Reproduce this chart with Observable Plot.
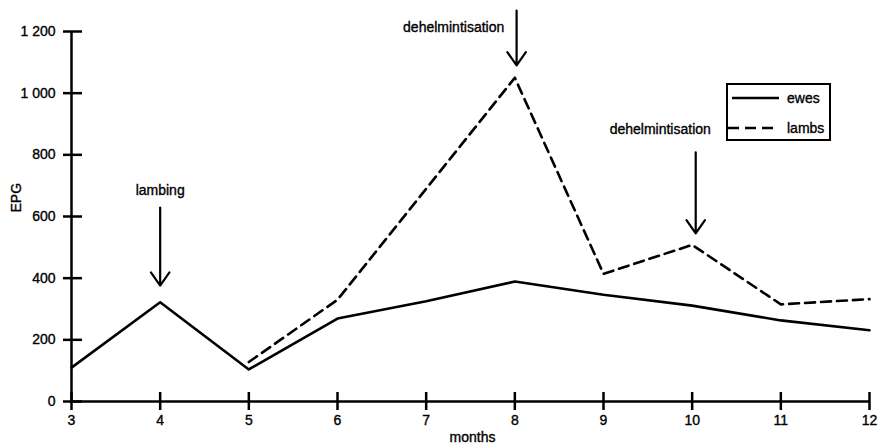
<!DOCTYPE html>
<html><head><meta charset="utf-8">
<script src="https://cdn.jsdelivr.net/npm/d3@7"></script>
<script src="https://cdn.jsdelivr.net/npm/@observablehq/plot@0.6"></script>
<style>
body{margin:0;background:#fff;font-family:"Liberation Sans",Arial,Helvetica,sans-serif;}
#wrap{position:relative;width:878px;height:446px;overflow:hidden;}
#wrap svg text{stroke:#000;stroke-width:0.35px;}
#legend{position:absolute;left:726px;top:83px;width:101px;height:54px;border:2px solid #000;background:#fff;}
#legend svg{display:block}
</style></head><body>
<div id="wrap"></div>
<script>
// ---- data ----
const months = [3, 4, 5, 6, 7, 8, 9, 10, 11, 12];
const ewes = [110, 322, 104, 269, 325, 389, 346, 311, 263, 231];
const lambMonths = [5, 6, 8, 9, 10, 11, 12];
const lambs = [128, 330, 1050, 414, 508, 315, 332];
const yTicks = [0, 200, 400, 600, 800, 1000, 1200];
const xTicks = [3, 4, 5, 6, 7, 8, 9, 10, 11, 12];
const annLabels = ["lambing", "dehelmintisation", "dehelmintisation"];
const annTextX = [4.0, 7.31, 9.64];
const annTextY = [684, 1213, 882];
const annArrowX = [4.0, 8.02, 10.04];
const annArrowTop = [629, 1268, 808];
const annArrowBottom = [376, 1090, 545];
const seriesNames = ["ewes", "lambs"];

// ---- tables ----
const ewesData = months.map((m, i) => ({month: m, epg: ewes[i]}));
const lambsData = lambMonths.map((m, i) => ({month: m, epg: lambs[i]}));
const annotations = annLabels.map((label, i) => ({
  label, tx: annTextX[i], ty: annTextY[i], ax: annArrowX[i], a1: annArrowTop[i], a2: annArrowBottom[i]
}));

const fmt = d3.formatLocale({decimal: ".", thousands: " ", grouping: [3], currency: ["", ""]}).format(",");

const chart = Plot.plot({
  width: 878,
  height: 446,
  marginLeft: 71,
  marginRight: 9,
  marginTop: 31,
  marginBottom: 45,
  style: {fontFamily: '"Liberation Sans", Arial, Helvetica, sans-serif', fontSize: "14px", color: "#000", background: "#fff"},
  x: {domain: [3, 12]},
  y: {domain: [0, 1200]},
  marks: [
    Plot.ruleY([0], {stroke: "#000", strokeWidth: 2.5}),
    Plot.ruleX([3], {stroke: "#000", strokeWidth: 2.5}),
    Plot.axisY({ticks: yTicks, tickSize: 19, dx: 11, tickFormat: () => "", strokeWidth: 2.5, label: null}),
    Plot.axisY({ticks: yTicks, tickSize: 0, tickPadding: 16, tickFormat: fmt, fontSize: 14, label: null}),
    Plot.axisX({ticks: xTicks, tickSize: 18, dy: -9, tickFormat: () => "", strokeWidth: 2.5, label: null}),
    Plot.axisX({ticks: xTicks, tickSize: 0, tickPadding: 14, fontSize: 14, label: null}),
    Plot.line(ewesData, {x: "month", y: "epg", stroke: "#000", strokeWidth: 2.6}),
    Plot.line(lambsData, {x: "month", y: "epg", stroke: "#000", strokeWidth: 2.6, strokeDasharray: "10,6"}),
    Plot.text(annotations, {x: "tx", y: "ty", text: "label", fontSize: 14, fill: "#000"}),
    Plot.arrow(annotations, {x1: "ax", x2: "ax", y1: "a1", y2: "a2", stroke: "#000", strokeWidth: 2.2, headLength: 11, headAngle: 70}),
    Plot.text(["EPG"], {frameAnchor: "left", dx: -55, dy: -4, rotate: -90, fontSize: 14, fill: "#000"}),
    Plot.text(["months"], {frameAnchor: "bottom", dy: 40, dx: 2, fontSize: 14, fill: "#000"})
  ]
});
const wrap = document.getElementById("wrap");
wrap.appendChild(chart);

// ---- legend ----
const legend = document.createElement("div");
legend.id = "legend";
const ns = "http://www.w3.org/2000/svg";
const lsvg = document.createElementNS(ns, "svg");
lsvg.setAttribute("width", 101); lsvg.setAttribute("height", 54);
seriesNames.forEach((name, i) => {
  const yy = 13 + i * 30;
  const ln = document.createElementNS(ns, "line");
  ln.setAttribute("x1", i === 0 ? 4 : 0); ln.setAttribute("x2", 51);
  ln.setAttribute("y1", yy); ln.setAttribute("y2", yy);
  ln.setAttribute("stroke", "#000"); ln.setAttribute("stroke-width", 2.6);
  if (i === 1) ln.setAttribute("stroke-dasharray", "11,6");
  lsvg.appendChild(ln);
  const t = document.createElementNS(ns, "text");
  t.setAttribute("x", 59); t.setAttribute("y", yy); t.setAttribute("dy", "0.35em");
  t.setAttribute("font-size", 14);
  t.setAttribute("font-family", '"Liberation Sans", Arial, Helvetica, sans-serif');
  t.textContent = name;
  lsvg.appendChild(t);
});
legend.appendChild(lsvg);
wrap.appendChild(legend);
</script>
</body></html>
